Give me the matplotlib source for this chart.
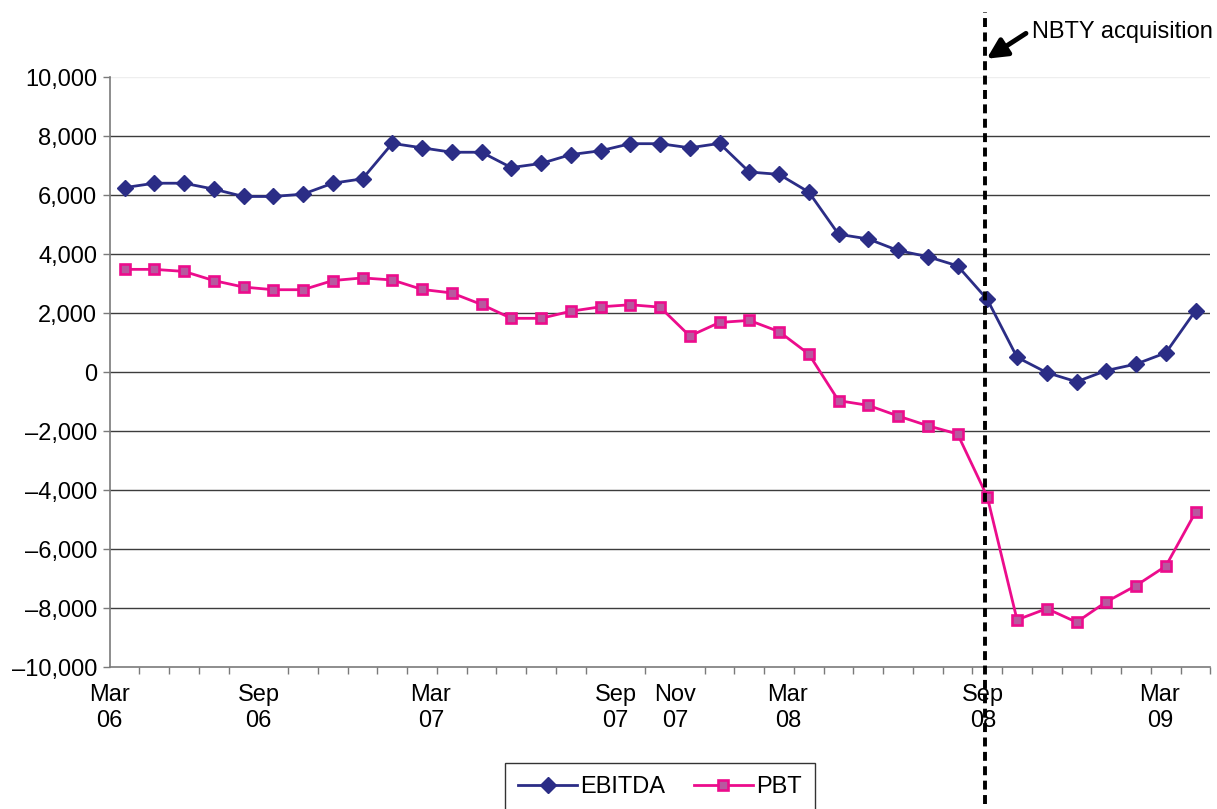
import numpy as np
import matplotlib
matplotlib.use("Agg")
import matplotlib.pyplot as plt
from matplotlib.ticker import FixedLocator, FuncFormatter

plt.rcParams['font.family'] = ['Liberation Sans', 'DejaVu Sans']

# monthly values, Mar 06 .. Mar 09 (37 points)
ebitda = [6250, 6400, 6400, 6200, 5950, 5950, 6030, 6400, 6550, 7750,
          7600, 7450, 7450, 6930, 7070, 7370, 7500, 7740, 7740, 7600,
          7750, 6780, 6700, 6100, 4670, 4510, 4120, 3910, 3600, 2460,
          500, -20, -330, 50, 270, 650, 2080]
pbt = [3480, 3480, 3410, 3100, 2880, 2790, 2790, 3100, 3190, 3120,
       2800, 2680, 2290, 1820, 1820, 2060, 2210, 2280, 2200, 1220,
       1680, 1750, 1370, 610, -970, -1130, -1490, -1820, -2100, -4230,
       -8400, -8020, -8480, -7790, -7240, -6580, -4750]

x_labels = ["Mar\n06", "Sep\n06", "Mar\n07", "Sep\n07", "Nov\n07",
            "Mar\n08", "Sep\n08", "Mar\n09"]
x_label_pos = [-0.5, 4.5, 10.3, 16.5, 18.5, 22.3, 28.85, 34.8]
acq_x = 28.93

x = np.arange(len(ebitda))

fig = plt.figure(figsize=(12.17, 8.09), dpi=100)
ax = fig.add_axes([0.0901, 0.1755, 0.9045, 0.7293])

navy = '#2B2D86'
pink = '#EC0C8C'
ax.plot(x, ebitda, color=navy, lw=2.0, marker='D', ms=8.6,
        mfc=navy, mec=navy, mew=1, label='EBITDA', zorder=4)
ax.plot(x, pbt, color=pink, lw=2.0, marker='s', ms=7.4,
        mfc='#B8589F', mec=pink, mew=1.9, label='PBT', zorder=3)

ax.set_xlim(-0.5, 36.5)
ax.set_ylim(-10000, 10000)

# grid
for v in range(-8000, 10000, 2000):
    ax.axhline(v, color='#3c3c3c', lw=1.0, zorder=1)
ax.axhline(10000, color='#eeeeee', lw=1.0, zorder=1)

for s in ['top', 'right']:
    ax.spines[s].set_visible(False)
for s in ['left', 'bottom']:
    ax.spines[s].set_color('#7a7a7a')
    ax.spines[s].set_linewidth(1.2)

ax.set_yticks(range(-10000, 10001, 2000))
ax.yaxis.set_major_formatter(FuncFormatter(
    lambda v, p: f"{int(v):,}".replace('-', '\u2013')))
ax.tick_params(axis='y', length=5, width=1, color='#7a7a7a',
               labelsize=17, pad=4)

ax.xaxis.set_major_locator(FixedLocator(x_label_pos))
ax.set_xticklabels(x_labels)
ax.xaxis.set_minor_locator(FixedLocator(np.arange(-0.5, 37, 1)))
ax.tick_params(axis='x', which='major', length=0, labelsize=17, pad=12)
ax.tick_params(axis='x', which='minor', length=5, width=1, color='#7a7a7a')
for t in ax.get_xticklabels():
    t.set_linespacing(1.25)

# acquisition marker
ax.axvline(acq_x, ymin=-0.232, ymax=1.11, color='black', lw=2.8,
           linestyle=(0, (2.3, 1.4)), clip_on=False, zorder=6)
ax.annotate('', xy=(acq_x + 0.05, 10620), xytext=(30.3, 11480),
            arrowprops=dict(arrowstyle='-|>', lw=3.5, color='black',
                            mutation_scale=30, shrinkA=0, shrinkB=0),
            annotation_clip=False)
ax.text(30.49, 11520, 'NBTY acquisition', fontsize=17, ha='left',
        va='center', clip_on=False)

fig.legend(loc='upper left', bbox_to_anchor=(0.415, 0.0569),
           bbox_transform=fig.transFigure, ncol=2, fontsize=17,
           frameon=True, fancybox=False, edgecolor='black',
           handlelength=2.5, handletextpad=0.15, columnspacing=1.2,
           borderpad=0.55, borderaxespad=0).get_frame().set_linewidth(1.0)

fig.savefig("out.png", dpi=100)
